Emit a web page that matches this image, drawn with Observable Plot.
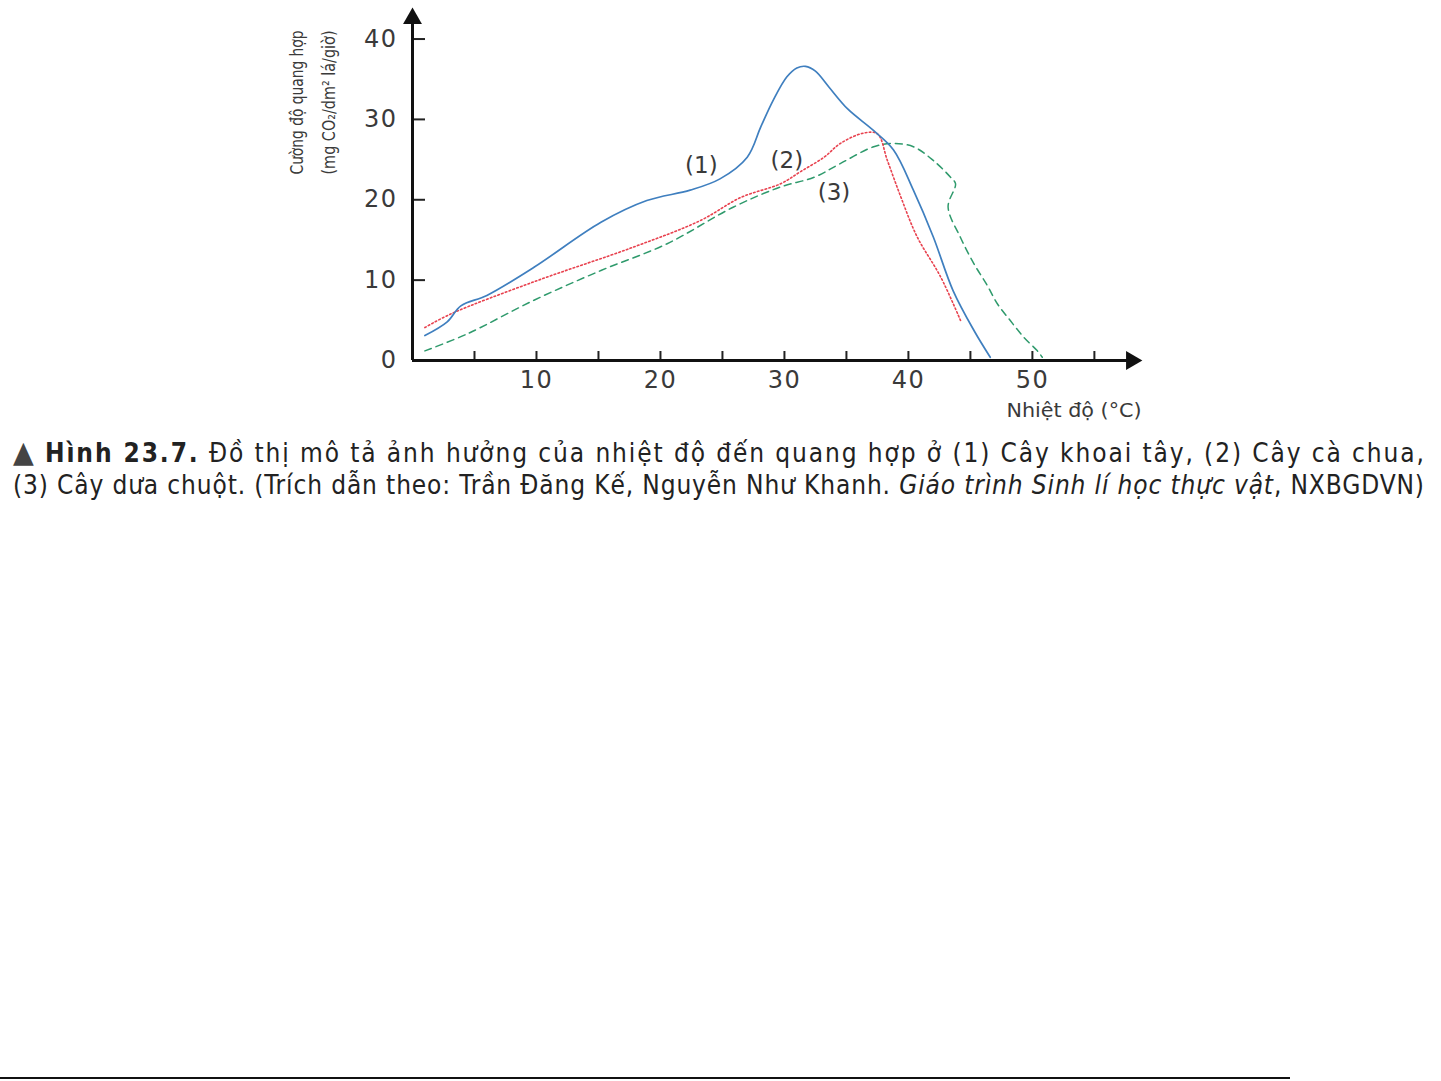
<!DOCTYPE html>
<html>
<head>
<meta charset="utf-8">
<script src="https://cdn.jsdelivr.net/npm/d3@7"></script>
<script src="https://cdn.jsdelivr.net/npm/@observablehq/plot@0.6"></script>
<style>
  html, body { margin: 0; padding: 0; background: #fff; }
  #chart svg { display: block; }
  #chart g[aria-label="x-axis tick label"] text,
  #chart g[aria-label="y-axis tick label"] text { letter-spacing: 1.5px; }
  .caption { position: absolute; left: 13px; width: 1411px; top: 436px;
    font-family: "DejaVu Sans Condensed", "DejaVu Sans", sans-serif;
    font-size: 26px; line-height: 32px; color: #222; }
  .caption div { white-space: nowrap; }
  .caption span.line { display: inline-block; }
  .bottomline { position: absolute; left: 0; top: 1077px; width: 1290px; height: 2px; background: #111; }
</style>
</head>
<body>
<div id="chart"></div>
<div class="caption">
  <div><span class="line"><span style="color:#444;font-size:30px">▲</span> <b>Hình 23.7.</b> Đồ thị mô tả ảnh hưởng của nhiệt độ đến quang hợp ở (1) Cây khoai tây, (2) Cây cà chua,</span></div>
  <div><span class="line">(3) Cây dưa chuột. (Trích dẫn theo: Trần Đăng Kế, Nguyễn Như Khanh. <i>Giáo trình Sinh lí học thực vật</i>, NXBGDVN)</span></div>
</div>
<div class="bottomline"></div>
<script>
// (1) Cây khoai tây — potato
const potatoT = [1.0, 2.8, 3.9, 6.0, 9.8, 15.2, 18.9, 22.4, 24.8, 27.0, 28.1, 29.1, 30.2, 31.0, 31.7, 32.5, 33.6, 35.1, 37.2, 38.8, 40.4, 42.0, 43.6, 45.3, 46.6];
const potatoP = [3.1, 4.8, 6.8, 8.1, 11.6, 17.2, 19.9, 21.2, 22.6, 25.3, 29.1, 32.4, 35.3, 36.4, 36.6, 36.0, 34.0, 31.3, 28.6, 26.2, 21.2, 15.4, 8.7, 3.7, 0.4];
// (2) Cây cà chua — tomato
const tomatoT = [1.0, 3.1, 9.8, 17.8, 23.2, 26.5, 29.7, 31.3, 33.2, 34.5, 36.4, 37.5, 38.3, 39.4, 40.7, 42.6, 44.2];
const tomatoP = [4.1, 5.8, 9.8, 14.1, 17.4, 20.3, 22.0, 23.5, 25.3, 27.0, 28.3, 28.2, 24.9, 20.3, 15.4, 10.4, 5.0];
// (3) Cây dưa chuột — cucumber
const cucumberT = [1.0, 4.4, 9.8, 15.2, 20.5, 25.9, 29.7, 32.4, 34.5, 37.2, 38.8, 40.4, 42.0, 43.4, 43.8, 43.2, 44.2, 45.3, 46.3, 47.2, 48.2, 49.3, 50.4, 50.8];
const cucumberP = [1.2, 3.3, 7.5, 11.2, 14.5, 19.1, 21.6, 22.8, 24.5, 26.6, 27.0, 26.6, 24.9, 22.8, 22.0, 19.1, 15.3, 12.0, 9.5, 7.0, 5.0, 2.9, 1.2, 0.4];

const xTicks = [5, 10, 15, 20, 25, 30, 35, 40, 45, 50, 55];
const xLabels = [10, 20, 30, 40, 50];
const yTicks = [10, 20, 30, 40];
const yLabels = [0, 10, 20, 30, 40];
const xMax = 58.8, yMax = 43.8;

const seriesLabels = [
  {t: 23.3, p: 24.3, text: "(1)"},
  {t: 30.2, p: 24.9, text: "(2)"},
  {t: 34.0, p: 20.9, text: "(3)"}
];

const yTitle1 = "Cường độ quang hợp";
const yTitle2 = "(mg CO₂/dm² lá/giờ)";
const xTitle = "Nhiệt độ (°C)";

const toRows = (T, P) => T.map((t, i) => ({t, p: P[i]}));
const potato = toRows(potatoT, potatoP);
const tomato = toRows(tomatoT, tomatoP);
const cucumber = toRows(cucumberT, cucumberP);

const font = "'DejaVu Sans', sans-serif";
const condensed = "'DejaVu Sans Condensed', 'DejaVu Sans', sans-serif";
const ink = "#3a3a3a";

const chart = Plot.plot({
  width: 1441,
  height: 432,
  marginLeft: 412,
  marginRight: 300,
  marginTop: 8,
  marginBottom: 72,
  x: {domain: [0, xMax]},
  y: {domain: [0, yMax]},
  style: {fontFamily: font, color: ink, background: "white"},
  marks: [
    Plot.axisX({ticks: xTicks, tickSize: -9, tickFormat: () => "", label: null, strokeWidth: 2, stroke: "#222"}),
    Plot.axisX({ticks: xLabels, tickSize: 0, tickPadding: 10, label: null, fontSize: 24, fill: ink}),
    Plot.axisY({ticks: yTicks, tickSize: -13, tickFormat: () => "", label: null, strokeWidth: 2, stroke: "#222"}),
    Plot.axisY({ticks: yLabels, tickSize: 0, tickPadding: 15, label: null, fontSize: 24, fill: ink}),
    Plot.line(cucumber, {x: "t", y: "p", curve: "catmull-rom", stroke: "#2f9a6c", strokeWidth: 1.5, strokeDasharray: "7,5"}),
    Plot.line(tomato, {x: "t", y: "p", curve: "catmull-rom", stroke: "#e8424f", strokeWidth: 1.6, strokeDasharray: "1.6,2.4"}),
    Plot.line(potato, {x: "t", y: "p", curve: "catmull-rom", stroke: "#3f7fbf", strokeWidth: 1.7}),
    Plot.ruleY([0], {x1: 0, x2: xMax - 0.8, stroke: "#111", strokeWidth: 3}),
    Plot.ruleX([0], {y1: 0, y2: yMax - 1.2, stroke: "#111", strokeWidth: 3}),
    Plot.dot([{t: xMax, p: 0}], {x: "t", y: "p", symbol: "triangle", r: 7, rotate: 90, fill: "#111", stroke: "none", dx: -10}),
    Plot.dot([{t: 0, p: yMax}], {x: "t", y: "p", symbol: "triangle", r: 7, fill: "#111", stroke: "none", dy: 10}),
    Plot.text(seriesLabels, {x: "t", y: "p", text: "text", fontSize: 23, fill: ink}),
    Plot.text([xTitle], {frameAnchor: "bottom-right", dx: 0, dy: 56, textAnchor: "end",
      fontFamily: condensed, fontSize: 20, fill: ink}),
    Plot.text([yTitle1], {frameAnchor: "top-left", dx: -122, dy: 94, rotate: -90, textAnchor: "middle",
      fontFamily: condensed, fontSize: 17, fill: ink}),
    Plot.text([yTitle2], {frameAnchor: "top-left", dx: -90, dy: 94, rotate: -90, textAnchor: "middle",
      fontFamily: condensed, fontSize: 17, fill: ink})
  ]
});
document.getElementById("chart").append(chart);

// fit titles to the reference's lengths
d3.select(chart).selectAll("text").each(function() {
  const t = this.textContent;
  if (t === yTitle1 || t === yTitle2) {
    this.setAttribute("textLength", 144);
    this.setAttribute("lengthAdjust", "spacingAndGlyphs");
  }
  if (t === xTitle) {
    this.setAttribute("textLength", 135);
    this.setAttribute("lengthAdjust", "spacingAndGlyphs");
  }
});

// stretch each caption line to the full width
const target = 1411;
document.querySelectorAll(".caption span.line").forEach(el => {
  const w = el.getBoundingClientRect().width;
  const n = el.textContent.length - 1;
  el.style.letterSpacing = ((target - w) / n) + "px";
});
</script>
</body>
</html>
